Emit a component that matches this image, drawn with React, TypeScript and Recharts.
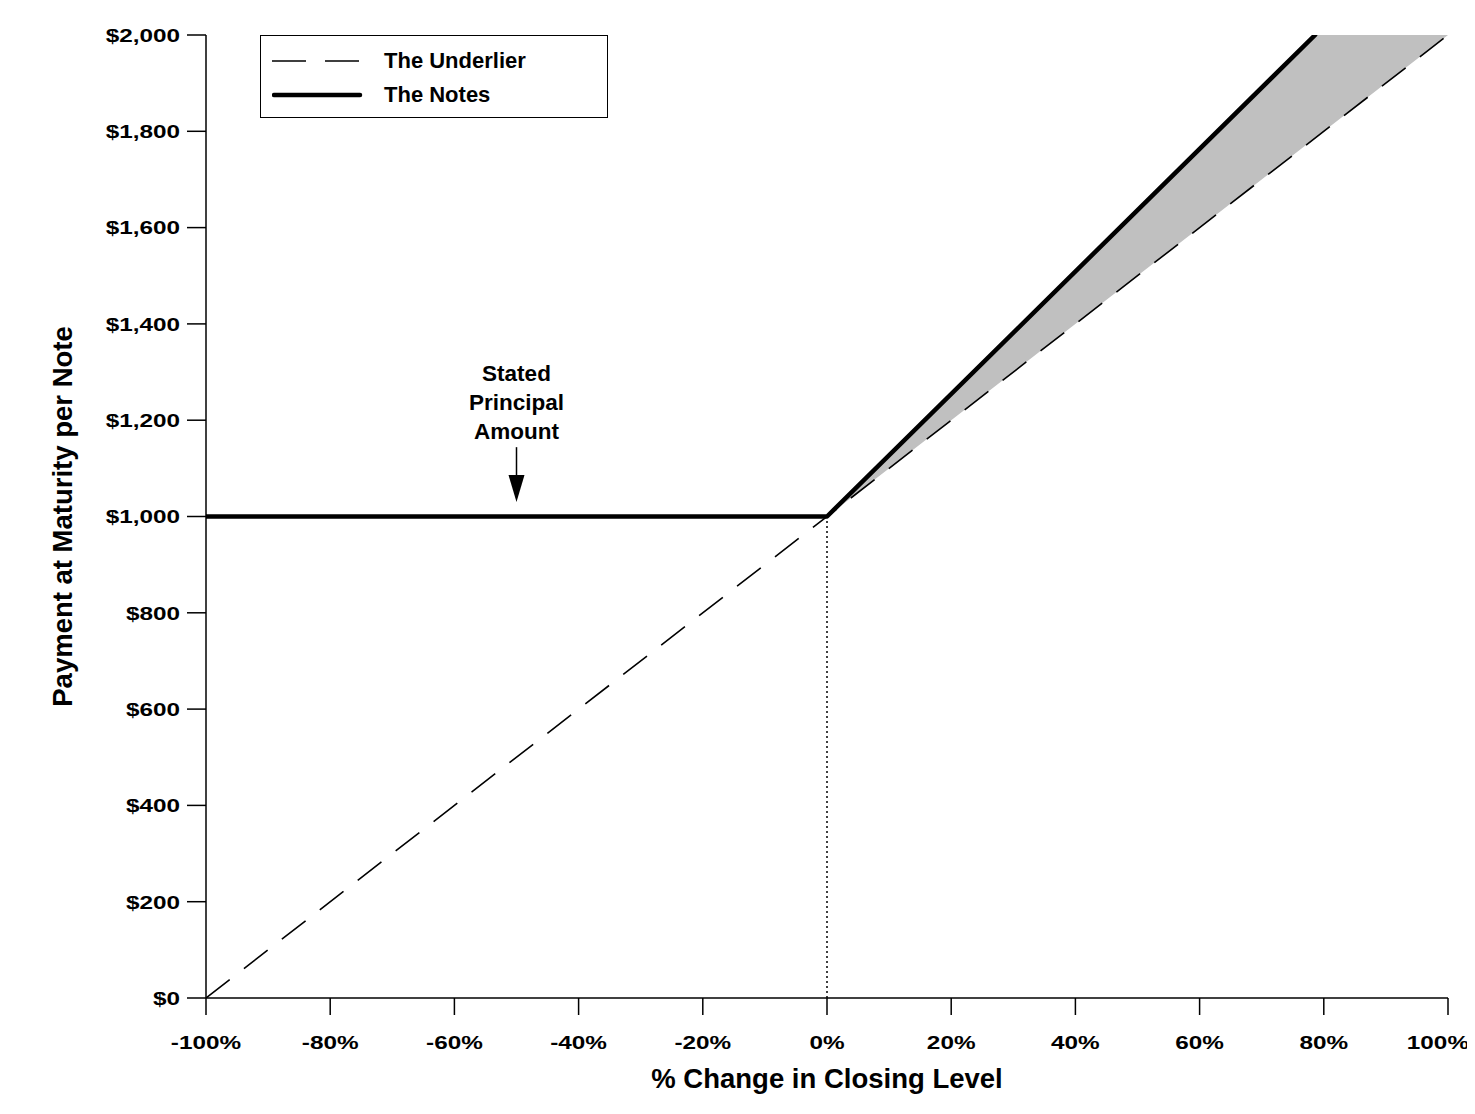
import React from 'react';
import {
  ComposedChart,
  Line,
  Area,
  XAxis,
  YAxis,
  ReferenceLine,
  ReferenceDot,
  Legend,
  Label,
} from 'recharts';

// ---- data ----
const xTicks = [-100, -80, -60, -40, -20, 0, 20, 40, 60, 80, 100];
const yTicks = [0, 200, 400, 600, 800, 1000, 1200, 1400, 1600, 1800, 2000];

const underlierX = [-100, 100];
const underlierY = [0, 2000];

const notesX = [-100, 0, 78.6];
const notesY = [1000, 1000, 2000];

const bandX = [0, 78.6, 100];
const bandLow = [1000, 1786, 2000];
const bandHigh = [1000, 2000, 2000];

const annotationLines = ['Stated', 'Principal', 'Amount'];
const annotationX = -50;
const annotationTextY = 1281;
const arrowFrom = 1144;
const arrowTo = 1030;

const seriesNames = { underlier: 'The Underlier', notes: 'The Notes' };
const xTitle = '% Change in Closing Level';
const yTitle = 'Payment at Maturity per Note';

const underlierData = underlierX.map((x, i) => ({ x, y: underlierY[i] }));
const notesData = notesX.map((x, i) => ({ x, y: notesY[i] }));
const bandData = bandX.map((x, i) => ({ x, range: [bandLow[i], bandHigh[i]] }));

const FONT = '"Liberation Sans", Arial, Helvetica, sans-serif';

const fmtX = (v: number) => `${v}%`;
const fmtY = (v: number) => `$${v.toLocaleString('en-US')}`;

const XTick = (props: any) => {
  const { x, y, payload } = props;
  const isLast = payload.value === xTicks[xTicks.length - 1];
  return (
    <g transform={`translate(${isLast ? x + 21 : x},${y})`}>
      <text
        transform="scale(1.28,1)"
        textAnchor={isLast ? 'end' : 'middle'}
        dy="0.72em"
        fontFamily={FONT}
        fontSize={19}
        fontWeight="bold"
        fill="#000"
      >
        {fmtX(payload.value)}
      </text>
    </g>
  );
};

const YTick = (props: any) => {
  const { x, y, payload } = props;
  return (
    <g transform={`translate(${x},${y})`}>
      <text
        transform="scale(1.28,1)"
        textAnchor="end"
        dy="0.36em"
        fontFamily={FONT}
        fontSize={19}
        fontWeight="bold"
        fill="#000"
      >
        {fmtY(payload.value)}
      </text>
    </g>
  );
};

const LegendContent = () => (
  <div
    style={{
      width: 348,
      height: 83,
      boxSizing: 'border-box',
      border: '1.5px solid #000',
      background: '#fff',
      position: 'relative',
      fontFamily: FONT,
      fontWeight: 'bold',
      fontSize: 22,
      color: '#000',
    }}
  >
    <div style={{ position: 'absolute', left: 11, top: 14, height: 22, display: 'flex', alignItems: 'center' }}>
      <svg width={92} height={22}>
        <line x1={0} y1={11} x2={90} y2={11} stroke="#000" strokeWidth={1.5} strokeDasharray="34 19" />
      </svg>
      <span style={{ marginLeft: 20, lineHeight: '22px' }}>{seriesNames.underlier}</span>
    </div>
    <div style={{ position: 'absolute', left: 11, top: 48, height: 22, display: 'flex', alignItems: 'center' }}>
      <svg width={92} height={22}>
        <line x1={2} y1={11} x2={88} y2={11} stroke="#000" strokeWidth={4.5} strokeLinecap="round" />
      </svg>
      <span style={{ marginLeft: 20, lineHeight: '22px' }}>{seriesNames.notes}</span>
    </div>
  </div>
);

const ArrowShape = (props: any) => {
  const { x1, y1, x2, y2 } = props;
  const head = 27;
  const half = 8;
  return (
    <g>
      <line x1={x1} y1={y1} x2={x2} y2={y2 - head} stroke="#000" strokeWidth={1.5} />
      <polygon points={`${x2 - half},${y2 - head} ${x2 + half},${y2 - head} ${x2},${y2}`} fill="#000" />
    </g>
  );
};

const AnnotationShape = (props: any) => {
  const { cx, cy } = props;
  return (
    <text x={cx} y={cy} textAnchor="middle" fontFamily={FONT} fontSize={22.5} fontWeight="bold" fill="#000">
      {annotationLines.map((t, i) => (
        <tspan key={t} x={cx} dy={i === 0 ? 0 : 29}>
          {t}
        </tspan>
      ))}
    </text>
  );
};

export default function App() {
  return (
    <ComposedChart
      width={1467}
      height={1100}
      margin={{ top: 27, right: 27, bottom: 10, left: 20 }}
      style={{ overflow: 'visible' }}
    >
      <XAxis
        type="number"
        dataKey="x"
        domain={[-100, 100]}
        ticks={xTicks}
        allowDataOverflow
        height={100}
        tick={<XTick />}
        tickSize={17}
        tickMargin={20}
        tickLine={{ stroke: '#000', strokeWidth: 1.5 }}
        axisLine={{ stroke: '#000', strokeWidth: 1.5 }}
        interval={0}
      >
        <Label
          content={(p: any) => {
            const vb = p.viewBox || {};
            return (
              <text
                x={vb.x + vb.width / 2}
                y={vb.y + 90}
                textAnchor="middle"
                fontFamily={FONT}
                fontSize={27.5}
                fontWeight="bold"
                fill="#000"
              >
                {xTitle}
              </text>
            );
          }}
        />
      </XAxis>
      <YAxis
        type="number"
        domain={[0, 2000]}
        ticks={yTicks}
        allowDataOverflow
        width={178}
        tick={<YTick />}
        tickSize={19}
        tickMargin={7}
        tickLine={{ stroke: '#000', strokeWidth: 1.5 }}
        axisLine={{ stroke: '#000', strokeWidth: 1.5 }}
        interval={0}
      >
        <Label
          content={(p: any) => {
            const vb = p.viewBox || {};
            const cx = vb.x + 34;
            const cy = vb.y + vb.height / 2;
            return (
              <text
                x={cx}
                y={cy}
                transform={`rotate(-90, ${cx}, ${cy})`}
                textAnchor="middle"
                dominantBaseline="central"
                fontFamily={FONT}
                fontSize={27.5}
                fontWeight="bold"
                fill="#000"
              >
                {yTitle}
              </text>
            );
          }}
        />
      </YAxis>
      <Legend
        layout="vertical"
        align="center"
        verticalAlign="middle"
        content={<LegendContent />}
        wrapperStyle={{ position: 'absolute', left: 252, top: 27, width: 348, height: 83 }}
      />
      <Area
        data={bandData}
        dataKey="range"
        type="linear"
        stroke="none"
        fill="#c0c0c0"
        fillOpacity={1}
        isAnimationActive={false}
        legendType="none"
        dot={false}
        activeDot={false}
      />
      <ReferenceLine
        segment={[
          { x: 0, y: 0 },
          { x: 0, y: 1000 },
        ]}
        stroke="#000"
        strokeWidth={1.5}
        strokeDasharray="2 3"
      />
      <Line
        data={underlierData}
        dataKey="y"
        name={seriesNames.underlier}
        type="linear"
        stroke="#000"
        strokeWidth={1.6}
        strokeDasharray="30 18"
        dot={false}
        activeDot={false}
        isAnimationActive={false}
      />
      <Line
        data={notesData}
        dataKey="y"
        name={seriesNames.notes}
        type="linear"
        stroke="#000"
        strokeWidth={4.5}
        strokeLinecap="round"
        strokeLinejoin="round"
        dot={false}
        activeDot={false}
        isAnimationActive={false}
      />
      <ReferenceLine
        segment={[
          { x: annotationX, y: arrowFrom },
          { x: annotationX, y: arrowTo },
        ]}
        shape={<ArrowShape />}
      />
      <ReferenceDot x={annotationX} y={annotationTextY} r={0} shape={<AnnotationShape />} />
    </ComposedChart>
  );
}
